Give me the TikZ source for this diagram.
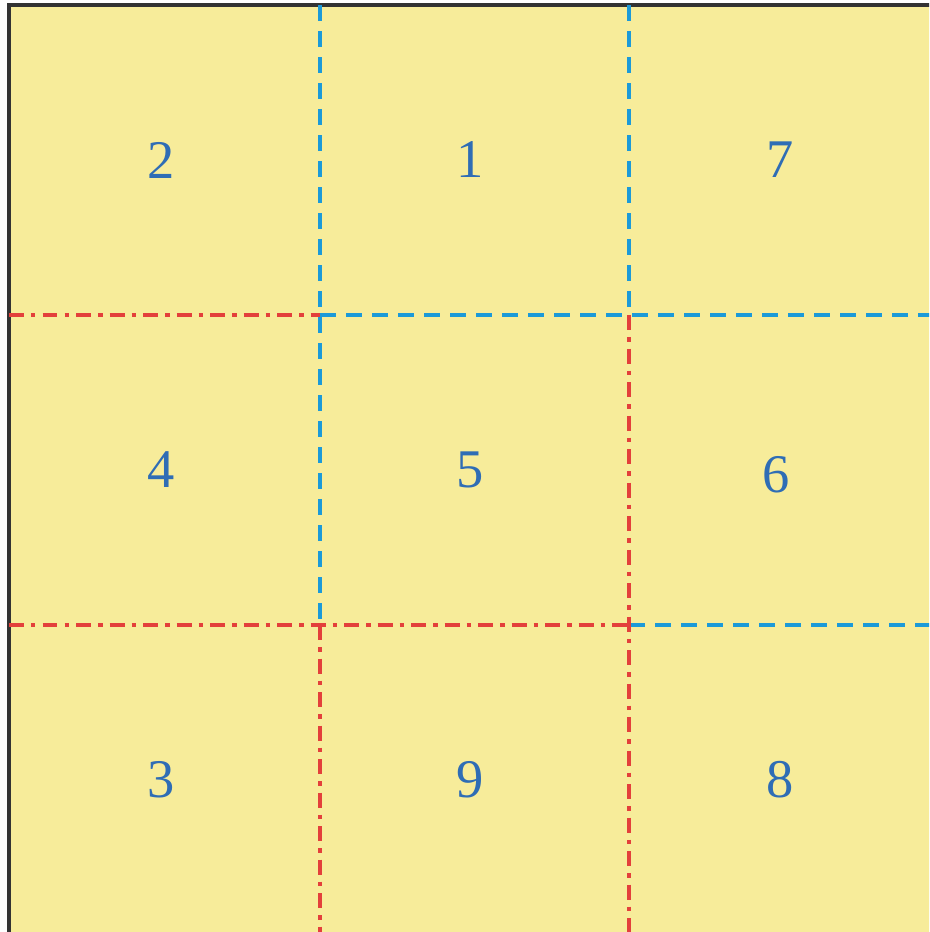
\documentclass[tikz,border=0pt]{standalone}
\usepackage{fontspec}
\setmainfont{Liberation Serif}
\definecolor{arena}{HTML}{F7EC9A}
\definecolor{celeste}{HTML}{1C9AD8}
\definecolor{carmin}{HTML}{E3403B}
\definecolor{azulnum}{HTML}{2F6DB5}
\definecolor{grisborde}{HTML}{333333}
\tikzset{
  hoja/.style={draw=grisborde, line width=1.0pt, fill=arena},
  cortea/.style={draw=celeste, line width=1.2pt, dash pattern=on 0.16cm off 0.10cm},
  corter/.style={draw=carmin, line width=1.2pt, dash pattern=on 0.15cm off 0.07cm on 0.045cm off 0.07cm},
  numero/.style={text=azulnum, font=\fontsize{15.5}{18}\selectfont, inner sep=0pt}
}
\begin{document}
\begin{tikzpicture}
  \useasboundingbox (0,0) rectangle (9.29,-9.32);
  \clip (0,0) rectangle (9.29,-9.32);
  \draw [hoja] (0.09,-0.05) rectangle (9.39,-9.35);
  % lineas azules
  \draw [cortea] (3.2,-0.05) -- (3.2,-6.25);
  \draw [cortea] (6.29,-0.05) -- (6.29,-3.15);
  \draw [cortea] (3.2,-3.15) -- (9.39,-3.15);
  \draw [cortea] (6.29,-6.25) -- (9.39,-6.25);
  % lineas rojas
  \draw [corter] (0.09,-3.15) -- (3.2,-3.15);
  \draw [corter] (0.09,-6.25) -- (6.29,-6.25);
  \draw [corter] (6.29,-3.15) -- (6.29,-9.35);
  \draw [corter] (3.2,-6.25) -- (3.2,-9.35);
  % numeros
  \foreach \num/\x/\y in {2/1.61/1.6, 1/4.7/1.6, 7/7.8/1.6,
                          4/1.61/4.7, 5/4.7/4.7, 6/7.76/4.75,
                          3/1.61/7.8, 9/4.7/7.8, 8/7.8/7.8}
    \node (n\num) [numero] at (\x,-\y) {\num};
\end{tikzpicture}
\end{document}
